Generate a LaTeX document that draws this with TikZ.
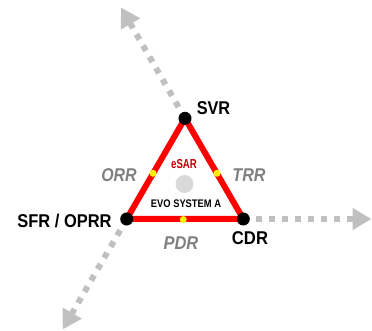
\documentclass[tikz,border=0pt]{standalone}
\usepackage{fontspec}
\setmainfont{Liberation Sans}
\usetikzlibrary{arrows.meta}
\definecolor{arrowgray}{HTML}{C0C0C0}
\definecolor{labgray}{HTML}{808080}
\definecolor{darkred}{HTML}{C00000}
\definecolor{dotgray}{HTML}{D9D9D9}
\newcommand{\nx}[2]{\scalebox{#1}[1]{#2}}
\tikzset{
  axisarrow/.style={draw=arrowgray, line width=6pt, dash pattern=on 6pt off 7pt,
    -{Triangle[length=19pt,width=21pt,fill=arrowgray]}},
  side/.style={draw=red, line width=6pt, line join=miter},
  vertexdot/.style={circle, fill=black, minimum size=13pt, inner sep=0pt},
  middot/.style={circle, fill=yellow, minimum size=7pt, inner sep=0pt},
  vlabel/.style={anchor=base, inner sep=0pt, font=\fontsize{18.5}{18.5}\selectfont\bfseries},
  slabel/.style={anchor=base, inner sep=0pt, text=labgray, font=\fontsize{18.5}{18.5}\selectfont\bfseries\itshape},
}
\begin{document}
\begin{tikzpicture}[x=1pt, y=-1pt]
\useasboundingbox (0,0) rectangle (372,331);
\coordinate (svr) at (185,118.3);
\coordinate (sfr) at (126.7,219);
\coordinate (cdr) at (243.3,219);
\coordinate (tipU) at (121,7.5);
\coordinate (tipD) at (62.7,329.5);
\coordinate (tipR) at (371.5,219);
% axis arrows
\draw[axisarrow] (svr) -- (tipU);
\draw[axisarrow] (sfr) -- (tipD);
\draw[axisarrow] (cdr) -- (tipR);
% center dot
\node[circle, fill=dotgray, minimum size=18pt, inner sep=0pt] (core) at (184.5,184) {};
% triangle
\draw[side] (svr) -- (cdr) -- (sfr) -- cycle;
% midpoint dots
\node[middot] (orr) at (153,173.3) {};
\node[middot] (trr) at (217,173.3) {};
\node[middot] (pdr) at (183.3,219.5) {};
% vertex dots
\node[vertexdot] (dsvr) at (svr) {};
\node[vertexdot] (dsfr) at (sfr) {};
\node[vertexdot] (dcdr) at (cdr) {};
% labels
\node[vlabel] (lsvr) at (213.5,115) {\nx{0.88}{SVR}};
\node[vlabel] (lsfr) at (64.5,227.5) {\nx{0.89}{SFR / OPRR}};
\node[vlabel] (lcdr) at (250,244) {\nx{0.9}{CDR}};
\node[slabel] (lorr) at (119,181.7) {\nx{0.86}{ORR}};
\node[slabel] (ltrr) at (249,181.7) {\nx{0.87}{TRR}};
\node[slabel] (lpdr) at (181,249.3) {\nx{0.89}{PDR}};
\node[anchor=base, inner sep=0pt, text=darkred, font=\fontsize{13}{13}\selectfont\bfseries] (esar) at (184,168.7) {\nx{0.74}{eSAR}};
\node[anchor=base, inner sep=0pt, font=\fontsize{11}{11}\selectfont\bfseries] (evo) at (186,207.7) {\nx{0.85}{EVO SYSTEM A}};
\end{tikzpicture}
\end{document}
